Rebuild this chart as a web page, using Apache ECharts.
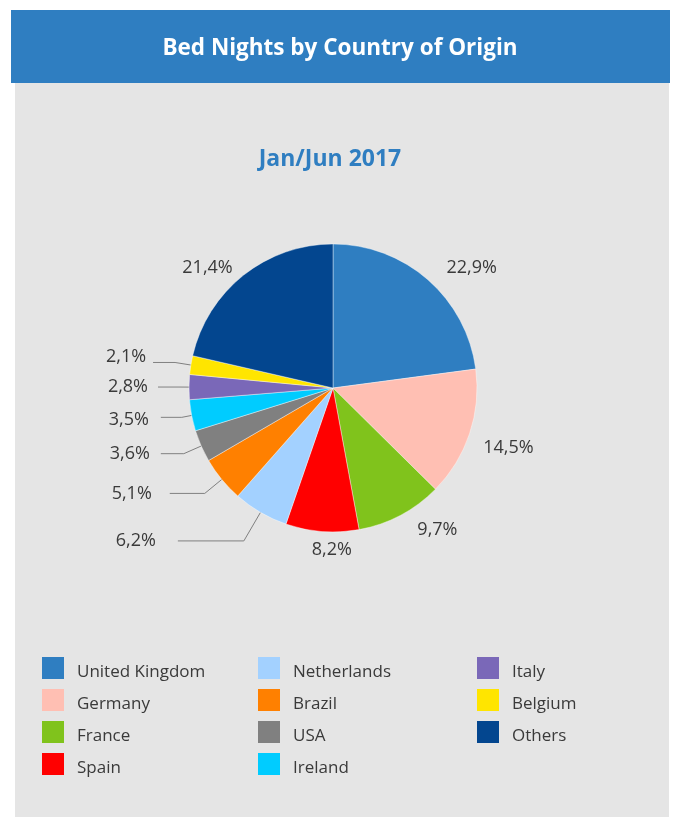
<!DOCTYPE html>
<html>
<head>
<meta charset="utf-8">
<script src="https://cdn.jsdelivr.net/npm/echarts@6/dist/echarts.min.js"></script>
<style>
  html, body { margin: 0; padding: 0; background: #ffffff; }
  #chart { width: 675px; height: 817px; }
</style>
</head>
<body>
<div id="chart"></div>
<script>
// data
const countries = ['United Kingdom', 'Germany', 'France', 'Spain', 'Netherlands', 'Brazil',
  'USA', 'Ireland', 'Italy', 'Belgium', 'Others']
const shares = [22.9, 14.5, 9.7, 8.2, 6.2, 5.1, 3.6, 3.5, 2.8, 2.1, 21.4]
const legendCols = [
  ['United Kingdom', 'Germany', 'France', 'Spain'],
  ['Netherlands', 'Brazil', 'USA', 'Ireland'],
  ['Italy', 'Belgium', 'Others'],
]
const headerText = 'Bed Nights by Country of Origin'
const periodText = 'Jan/Jun 2017'

// styles
const sliceColors = ['#2f7ec1', '#ffbfb3', '#80c31c', '#ff0000', '#a3d1ff', '#ff8000',
  '#808080', '#00ccff', '#7a68b8', '#ffe500', '#03468f']
const FONT = '"Open Sans", "Noto Sans", sans-serif'
const TEXT = '#3a3a3a'

// label line tweaks per slice: [length, length2, distance, showLine, textStyleKey]
const labelTweaks = [
  [16, 3, 5, false, 'n'],
  [45, 0, -29, false, 'n'],
  [17, 4, 5, false, 'n'],
  [18, 0, -31, false, 'n'],
  [33, 66, 22, true, 'n'],
  [22, 35, 18, true, 'n'],
  [19, 23, 11, true, 'n'],
  [10, 21, 12, true, 'dn'],
  [10, 21, 10, true, 'n'],
  [16, 22, 7, true, 'up'],
  [9, 0, 5, false, 'n'],
]

const fmt = v => v.toFixed(1).replace('.', ',') + '%'

const chart = echarts.init(document.getElementById('chart'), null, { renderer: 'canvas' })

const labelRich = {
  n: {},
  up: { padding: [0, 0, 12, 0] },
  dn: { padding: [6, 0, 0, 0] },
}

const pieData = countries.map((name, i) => {
  const [len, len2, dist, showLine] = labelTweaks[i]
  return {
    name,
    value: shares[i],
    itemStyle: { color: sliceColors[i] },
    label: { distanceToLabelLine: dist },
    labelLine: { show: showLine, length: len, length2: len2 },
  }
})

chart.setOption({
  animation: false,
  backgroundColor: '#ffffff',
  graphic: [
    { type: 'rect', z: 0, shape: { x: 11, y: 10, width: 659, height: 73 }, style: { fill: '#2f7ec1' }, silent: true },
    { type: 'rect', z: 0, shape: { x: 15, y: 83, width: 654, height: 734 }, style: { fill: '#e5e5e5' }, silent: true },
  ],
  title: [
    {
      text: headerText, left: 340, top: 37, textAlign: 'center', padding: 0,
      textStyle: { color: '#ffffff', fontFamily: FONT, fontWeight: 'bold', fontSize: 22.5 },
    },
    {
      text: periodText, left: 330, top: 148, textAlign: 'center', padding: 0,
      textStyle: { color: '#2f7ec1', fontFamily: FONT, fontWeight: 'bold', fontSize: 23 },
    },
  ],
  legend: legendCols.map((col, k) => ({
    data: col,
    orient: 'vertical',
    left: [42, 258, 477][k],
    top: 657,
    padding: 0,
    itemGap: 8.5,
    itemWidth: 22,
    itemHeight: 22,
    icon: 'rect',
    selectedMode: false,
    itemStyle: { borderWidth: 0 },
    formatter: name => `{t|${name}}`,
    textStyle: {
      color: TEXT, fontFamily: FONT, fontSize: 17,
      rich: { t: { color: TEXT, fontFamily: FONT, fontSize: 17, padding: [8, 0, 0, 8] } },
    },
  })),
  series: [{
    type: 'pie',
    center: [333, 388],
    radius: 144,
    startAngle: 90,
    clockwise: true,
    avoidLabelOverlap: false,
    silent: true,
    itemStyle: { borderColor: '#ffffff', borderWidth: 0.4 },
    label: {
      show: true,
      position: 'outside',
      formatter: p => `{${labelTweaks[p.dataIndex][4]}|${fmt(p.value)}}`,
      color: TEXT,
      fontFamily: FONT,
      fontSize: 18,
      rich: labelRich,
    },
    labelLine: { lineStyle: { color: '#808080', width: 1 }, smooth: false },
    emphasis: { disabled: true },
    data: pieData,
  }],
})
</script>
</body>
</html>
